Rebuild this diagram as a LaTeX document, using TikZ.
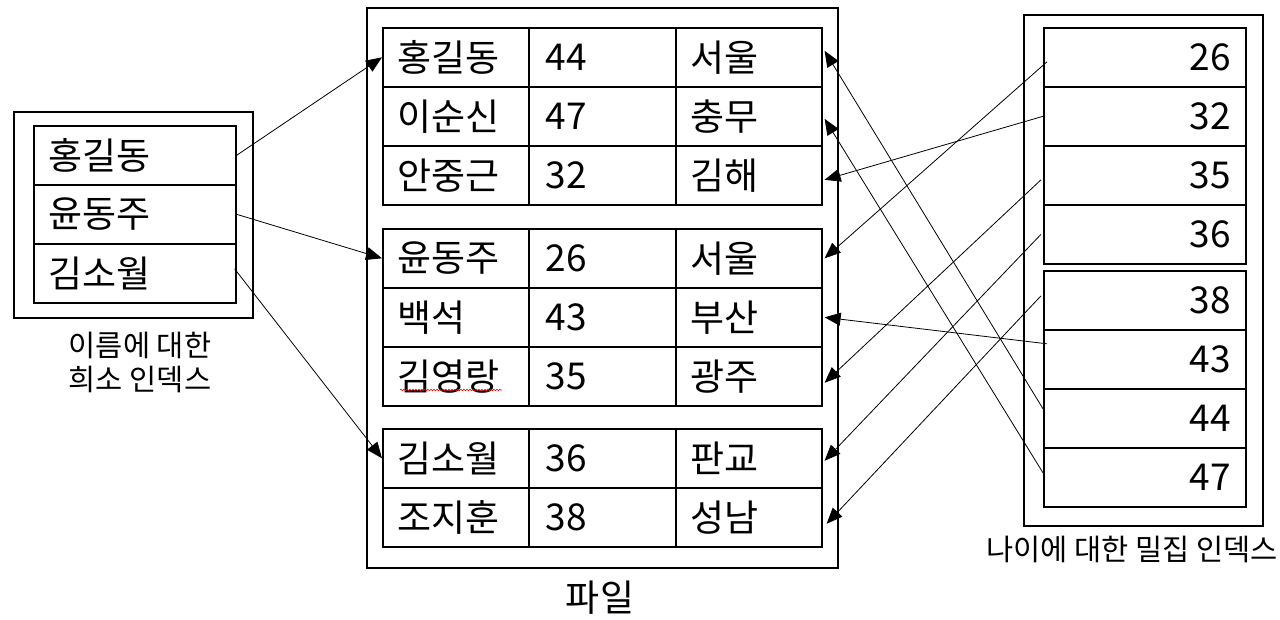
\documentclass[tikz,border=0pt]{standalone}
\usepackage{fontspec}
\setmainfont{Noto Sans CJK KR}
\usetikzlibrary{arrows.meta,calc,decorations.pathmorphing}
\begin{document}
\begin{tikzpicture}[x=1pt,y=-1pt,
  box/.style={draw,line width=1.6pt},
  cell/.style={draw,line width=1.6pt,anchor=north west,minimum height=59pt,inner ysep=0pt,inner xsep=15pt,font=\fontsize{37}{37}\selectfont},
  namecell/.style={cell,text width=116pt,align=left},
  agecell/.style={cell,inner xsep=17pt,text width=113pt,align=left},
  citycell/.style={cell,text width=116pt,align=left},
  idxcell/.style={cell,text width=172pt,align=right},
  lcell/.style={cell,text width=172pt,align=left},
  ptr/.style={line width=0.8pt,-{Triangle[length=16pt,width=13pt]}},
  lbl/.style={font=\fontsize{29.5}{34}\selectfont,align=center,inner sep=0pt}]
\useasboundingbox (0,0) rectangle (1280,619);

% outer boxes
\draw[box] (14,112) rectangle (253,318);
\draw[box] (367,8) rectangle (838,568);
\draw[box] (1024,15) rectangle (1263,526);

% left sparse index
\node[lcell] (s1) at (33,125) {홍길동};
\node[lcell] (s2) at (33,184) {윤동주};
\node[lcell] (s3) at (33,243) {김소월};

% file blocks
\node[namecell] (f1n) at (382,27) {홍길동};
\node[agecell]  (f1a) at (528,27) {44};
\node[citycell] (f1c) at (675,27) {서울};
\node[namecell] (f2n) at (382,86) {이순신};
\node[agecell]  (f2a) at (528,86) {47};
\node[citycell] (f2c) at (675,86) {충무};
\node[namecell] (f3n) at (382,145) {안중근};
\node[agecell]  (f3a) at (528,145) {32};
\node[citycell] (f3c) at (675,145) {김해};

\node[namecell] (f4n) at (382,228) {윤동주};
\node[agecell]  (f4a) at (528,228) {26};
\node[citycell] (f4c) at (675,228) {서울};
\node[namecell] (f5n) at (382,287) {백석};
\node[agecell]  (f5a) at (528,287) {43};
\node[citycell] (f5c) at (675,287) {부산};
\node[namecell] (f6n) at (382,346) {김영랑};
\node[agecell]  (f6a) at (528,346) {35};
\node[citycell] (f6c) at (675,346) {광주};

\node[namecell] (f7n) at (382,428) {김소월};
\node[agecell]  (f7a) at (528,428) {36};
\node[citycell] (f7c) at (675,428) {판교};
\node[namecell] (f8n) at (382,487) {조지훈};
\node[agecell]  (f8a) at (528,487) {38};
\node[citycell] (f8c) at (675,487) {성남};

% spell-check squiggle
\draw[red,line width=0.6pt,decorate,decoration={snake,segment length=3pt,amplitude=0.8pt}] (400,390) -- (502,390);

% right dense index
\node[idxcell] (i26) at (1043,27) {26};
\node[idxcell] (i32) at (1043,86) {32};
\node[idxcell] (i35) at (1043,145) {35};
\node[idxcell] (i36) at (1043,204) {36};
\node[idxcell] (i38) at (1043,270) {38};
\node[idxcell] (i43) at (1043,329) {43};
\node[idxcell] (i44) at (1043,388) {44};
\node[idxcell] (i47) at (1043,447) {47};

% labels
\node[lbl] (lblname) at (140,362) {이름에 대한\\희소 인덱스};
\node[lbl] (lblage) at (1132,549) {나이에 대한 밀집 인덱스};
\node[font=\fontsize{37}{37}\selectfont,inner sep=0pt] (lblfile) at (600,598) {파일};

% sparse index pointers
\draw[ptr] (s1.east) -- (f1n.west);
\draw[ptr] (s2.east) -- (f4n.west);
\draw[ptr] ([xshift=-2pt,yshift=4.5pt]s3.east) -- (f7n.west);

% dense index pointers
\draw[ptr] ([xshift=4pt,yshift=-4.5pt]i26.west) -- ([xshift=2pt]f4c.east);
\draw[ptr] (i32.west) -- ([xshift=2pt,yshift=-4.5pt]f3c.east);
\draw[ptr] ([xshift=-2pt,yshift=-4.5pt]i35.west) -- ([xshift=2pt,yshift=-6.5pt]f6c.east);
\draw[ptr] ([xshift=-2pt]i36.west) -- ([xshift=2pt,yshift=-2.5pt]f7c.east);
\draw[ptr] ([xshift=-2pt,yshift=4.5pt]i38.west) -- ([xshift=4pt,yshift=-6.5pt]f8c.east);
\draw[ptr] ([xshift=4pt,yshift=15.5pt]i43.west) -- ([xshift=2pt]f5c.east);
\draw[ptr] ([yshift=9.5pt]i44.west) -- ([xshift=2pt,yshift=6.5pt]f1c.east);
\draw[ptr] ([yshift=4.5pt]i47.west) -- ([xshift=2pt,yshift=-2.5pt]f2c.east);
\end{tikzpicture}
\end{document}
